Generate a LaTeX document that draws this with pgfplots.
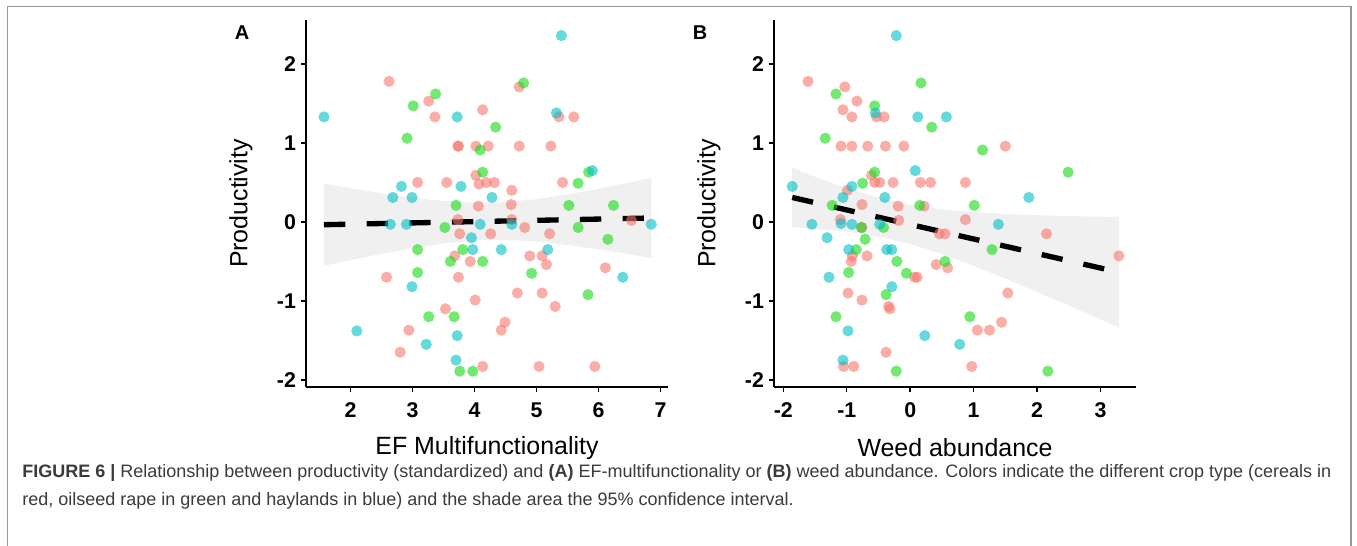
\documentclass[border=0pt]{standalone}
\usepackage{fontspec}
\setmainfont{Liberation Sans}
\usepackage{pgfplots}
\pgfplotsset{compat=1.18}
\definecolor{cred}{HTML}{F8766D}
\definecolor{cgreen}{HTML}{14DC14}
\definecolor{cblue}{HTML}{00BFC4}
\definecolor{bandc}{HTML}{F0F0F0}
\definecolor{captc}{HTML}{3A3A3A}

\pgfplotsset{
  myax/.style={
    scale only axis, width=271.5pt, height=275.25pt,
    axis lines=left,
    axis line style={-, line width=1.1pt, black},
    every tick/.style={line width=1.1pt, black},
    tick align=outside, major tick length=4pt,
    ymin=-2.09, ymax=2.557,
    ytick={-2,-1,0,1,2}, yticklabels={-2,-1,0,1,2},
    ticklabel style={font=\fontsize{16}{16}\selectfont\bfseries, black},
    xticklabel style={yshift=-4.5pt},
    label style={font=\fontsize{18.7}{20}\selectfont},
    x label style={at={(axis description cs:0.5,-0.165)}, anchor=center},
    y label style={at={(axis description cs:-0.18,0.5)}, anchor=center},
    ylabel={Productivity},
  },
  pr/.style={only marks, mark=*, mark size=4.2pt, mark options={draw opacity=0, fill=cred, fill opacity=0.6}},
  pg/.style={only marks, mark=*, mark size=4.2pt, mark options={draw opacity=0, fill=cgreen, fill opacity=0.6}},
  pb/.style={only marks, mark=*, mark size=4.2pt, mark options={draw opacity=0, fill=cblue, fill opacity=0.6}},
  reg/.style={black, line width=4pt, dash pattern=on 16pt off 16pt},
  band/.style={fill=bandc, draw=none},
}

\pgfplotstableread{
x y
2.62 1.78
3.26 1.53
4.72 1.71
3.36 1.33
4.13 1.42
5.36 1.33
5.60 1.33
3.73 0.96
3.74 0.96
4.02 0.96
4.22 0.96
4.72 0.96
5.23 0.96
3.08 0.50
3.55 0.50
4.02 0.59
4.07 0.48
4.19 0.50
4.32 0.50
5.42 0.50
4.60 0.40
4.06 0.20
4.59 0.22
3.73 0.03
4.60 0.03
6.53 0.02
4.81 -0.07
3.76 -0.15
4.26 -0.15
5.21 -0.15
3.68 -0.43
4.89 -0.43
5.09 -0.43
5.16 -0.54
3.93 -0.50
6.11 -0.58
2.58 -0.70
3.74 -0.70
4.01 -0.99
4.69 -0.90
5.09 -0.90
5.30 -1.07
3.53 -1.10
2.94 -1.37
4.49 -1.27
4.43 -1.37
2.80 -1.65
4.13 -1.83
5.04 -1.83
5.94 -1.83
}\redA

\pgfplotstableread{
x y
3.37 1.62
3.01 1.47
4.79 1.76
2.91 1.06
4.34 1.20
4.09 0.91
4.13 0.63
5.84 0.63
5.67 0.49
3.70 0.21
5.52 0.21
6.24 0.21
3.52 -0.07
5.67 -0.07
6.15 -0.22
3.08 -0.35
3.81 -0.35
3.61 -0.50
4.13 -0.50
3.08 -0.64
4.92 -0.65
5.83 -0.92
3.26 -1.20
3.67 -1.20
3.76 -1.89
3.97 -1.89
}\greenA

\pgfplotstableread{
x y
1.57 1.33
5.40 2.36
5.32 1.38
3.72 1.33
2.82 0.45
2.68 0.31
2.99 0.31
3.78 0.45
4.28 0.31
2.64 -0.03
2.90 -0.03
4.09 -0.03
4.60 -0.03
6.85 -0.03
5.90 0.65
3.95 -0.20
3.97 -0.35
4.43 -0.35
5.18 -0.35
2.99 -0.82
6.39 -0.70
2.10 -1.38
3.22 -1.55
3.72 -1.44
3.70 -1.75
}\blueA

\pgfplotstableread{
x y
-1.61 1.78
-1.03 1.71
-0.84 1.53
-1.06 1.42
-0.92 1.33
-0.53 1.33
-0.41 1.33
-1.09 0.96
-0.92 0.96
-0.67 0.96
-0.39 0.96
-0.10 0.96
1.50 0.96
-0.61 0.59
-0.56 0.50
-0.48 0.50
-0.27 0.50
0.16 0.50
0.32 0.50
0.87 0.50
-0.99 0.40
-0.76 0.22
-0.19 0.20
0.22 0.20
-1.10 0.03
-0.18 0.02
0.87 0.03
-0.76 -0.07
0.46 -0.15
0.55 -0.15
2.15 -0.15
-0.91 -0.43
-0.68 -0.43
3.29 -0.43
-0.93 -0.50
0.41 -0.54
0.59 -0.58
0.07 -0.70
0.11 -0.70
-0.98 -0.90
1.54 -0.90
-0.76 -0.99
-0.34 -1.07
-0.32 -1.10
1.44 -1.27
1.06 -1.37
1.25 -1.37
-0.38 -1.65
-1.05 -1.83
-0.89 -1.83
0.97 -1.83
}\redB

\pgfplotstableread{
x y
-1.17 1.62
-0.56 1.47
0.17 1.76
-1.34 1.06
0.34 1.20
1.14 0.91
-0.56 0.63
2.49 0.63
-0.75 0.49
-1.23 0.21
0.15 0.21
1.01 0.21
-0.77 -0.07
-0.42 -0.07
-0.71 -0.22
-0.85 -0.35
1.29 -0.35
-0.21 -0.50
0.55 -0.50
-0.97 -0.64
-0.06 -0.65
-0.38 -0.92
-1.17 -1.20
0.94 -1.20
-0.22 -1.89
2.17 -1.89
}\greenB

\pgfplotstableread{
x y
-0.22 2.36
0.12 1.33
0.57 1.33
-0.55 1.38
0.08 0.65
-1.86 0.45
-0.92 0.45
-1.06 0.31
-0.40 0.31
1.87 0.31
-1.55 -0.03
-1.09 -0.02
-0.92 -0.03
-0.48 -0.03
1.39 -0.03
-1.31 -0.20
-0.97 -0.35
-0.37 -0.35
-0.29 -0.35
-1.28 -0.70
-0.29 -0.82
-0.98 -1.38
0.23 -1.44
0.78 -1.55
-1.06 -1.75
}\blueB

\begin{document}
\begin{tikzpicture}
\useasboundingbox (0pt,0pt) rectangle (1017.75pt,-409.5pt);
\draw[gray!80, line width=1pt] (5.5pt,-412pt) -- (5.5pt,-4.8pt) -- (1013.2pt,-4.8pt) -- (1013.2pt,-412pt);

\begin{axis}[myax, at={(229.5pt,-290.25pt)}, anchor=south west,
  xmin=1.28, xmax=7.12, xtick={2,3,4,5,6,7}, xticklabels={2,3,4,5,6,7},
  xlabel={EF Multifunctionality}]
\addplot[band] coordinates {(1.57,0.485) (2,0.427) (2.5,0.363) (3,0.308) (3.5,0.264) (4,0.243) (4.25,0.243) (4.5,0.251) (5,0.289) (5.5,0.348) (6,0.420) (6.5,0.500) (6.85,0.558)
 (6.85,-0.458) (6.5,-0.410) (6,-0.347) (5.5,-0.291) (5,-0.248) (4.5,-0.226) (4.25,-0.226) (4,-0.234) (3.5,-0.272) (3,-0.331) (2.5,-0.403) (2,-0.483) (1.57,-0.555)} -- cycle;
\addplot[pr] table {\redA};
\addplot[pg] table {\greenA};
\addplot[pb] table {\blueA};
\addplot[reg] coordinates {(1.57,-0.035) (6.85,0.050)};
\end{axis}

\begin{axis}[myax, at={(580.5pt,-290.25pt)}, anchor=south west,
  xmin=-2.147, xmax=3.56, xtick={-2,-1,0,1,2,3}, xticklabels={-2,-1,0,1,2,3},
  xlabel={Weed abundance}]
\addplot[band] coordinates {(-1.86,0.685) (-1.5,0.571) (-1,0.427) (-0.5,0.306) (-0.3,0.266) (0,0.217) (0.5,0.160) (1,0.124) (1.5,0.101) (2,0.086) (2.5,0.075) (3,0.066) (3.29,0.063)
 (3.29,-1.337) (3,-1.234) (2.5,-1.058) (2,-0.886) (1.5,-0.717) (1,-0.556) (0.5,-0.408) (0,-0.281) (-0.3,-0.220) (-0.5,-0.186) (-1,-0.123) (-1.5,-0.083) (-1.86,-0.065)} -- cycle;
\addplot[pr] table {\redB};
\addplot[pg] table {\greenB};
\addplot[pb] table {\blueB};
\addplot[reg] coordinates {(-1.86,0.310) (3.29,-0.637)};
\end{axis}

\node[font=\fontsize{15}{15}\selectfont\bfseries] at (181.5pt,-24.75pt) {A};
\node[font=\fontsize{15}{15}\selectfont\bfseries] at (525pt,-24.75pt) {B};

\node[anchor=base west, inner sep=0pt, text=captc, font=\fontsize{13.5}{15}\selectfont] at (16.5pt,-358pt)
 {{\bfseries FIGURE 6 |} Relationship between productivity (standardized) and {\bfseries (A)} EF-multifunctionality or {\bfseries (B)} weed abundance. Colors indicate the different crop type (cereals in};
\node[anchor=base west, inner sep=0pt, text=captc, font=\fontsize{13.5}{15}\selectfont] at (16.5pt,-379pt)
 {red, oilseed rape in green and haylands in blue) and the shade area the 95\% confidence interval.};
\end{tikzpicture}
\end{document}
